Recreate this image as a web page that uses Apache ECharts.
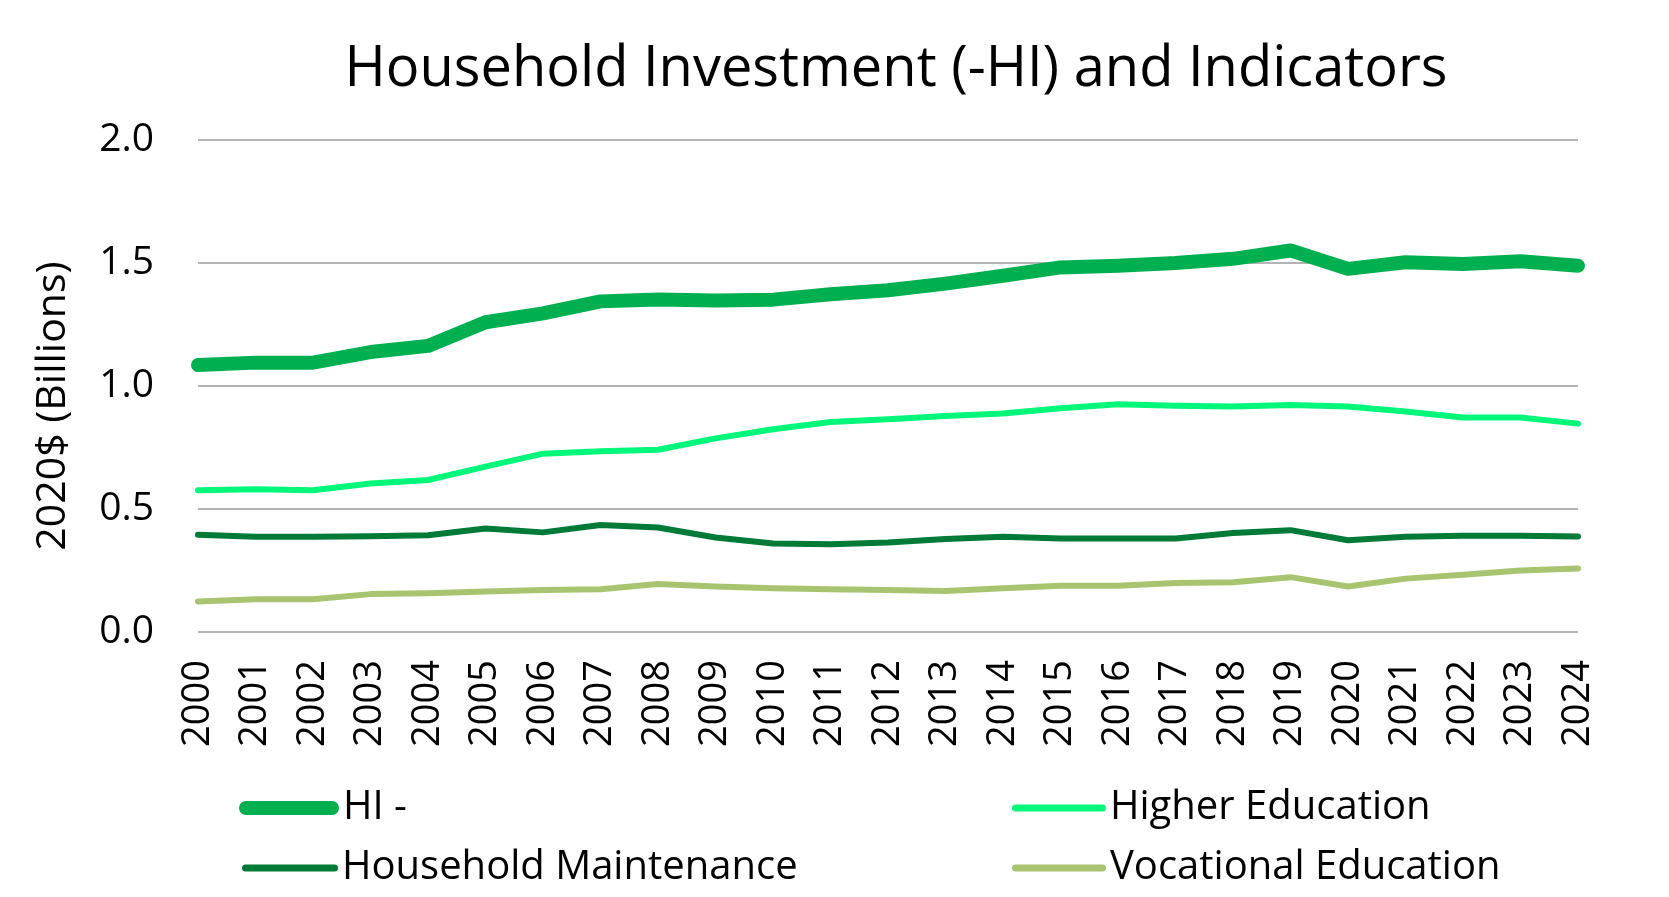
<!DOCTYPE html>
<html>
<head>
<meta charset="utf-8">
<title>Household Investment (-HI) and Indicators</title>
<script src="https://cdn.jsdelivr.net/npm/echarts@6/dist/echarts.min.js"></script>
<style>
  html, body { margin: 0; padding: 0; background: #fff; }
  #chart { width: 1669px; height: 897px; }
</style>
</head>
<body>
<div id="chart"></div>
<script>
const YEARS = ['2000', '2001', '2002', '2003', '2004', '2005', '2006', '2007', '2008', '2009', '2010', '2011', '2012',
  '2013', '2014', '2015', '2016', '2017', '2018', '2019', '2020', '2021', '2022', '2023', '2024'];

const HI = [1.085, 1.095, 1.095, 1.138, 1.163, 1.259, 1.295, 1.344, 1.352, 1.348, 1.351, 1.373, 1.389,
  1.416, 1.448, 1.482, 1.489, 1.500, 1.517, 1.551, 1.476, 1.503, 1.496, 1.507, 1.489];
const HIGHER_EDU = [0.576, 0.580, 0.576, 0.604, 0.618, 0.672, 0.725, 0.735, 0.741, 0.787, 0.824, 0.854, 0.865,
  0.878, 0.888, 0.910, 0.926, 0.920, 0.917, 0.923, 0.917, 0.896, 0.872, 0.872, 0.847];
const MAINTENANCE = [0.395, 0.387, 0.387, 0.389, 0.393, 0.421, 0.405, 0.435, 0.425, 0.384, 0.360, 0.357, 0.364,
  0.378, 0.387, 0.380, 0.380, 0.380, 0.402, 0.414, 0.373, 0.387, 0.391, 0.391, 0.388];
const VOCATIONAL = [0.124, 0.133, 0.133, 0.154, 0.158, 0.165, 0.171, 0.174, 0.195, 0.185, 0.178, 0.174, 0.171,
  0.167, 0.178, 0.188, 0.188, 0.199, 0.202, 0.223, 0.185, 0.217, 0.233, 0.250, 0.258];

const FONT = '"Open Sans", "Noto Sans", sans-serif';

const chart = echarts.init(document.getElementById('chart'));

function lineSeries(name, data, color, width) {
  return {
    name: name,
    type: 'line',
    data: data,
    symbol: 'none',
    smooth: false,
    lineStyle: { color: color, width: width, cap: 'round', join: 'round' },
    itemStyle: { color: color },
    animation: false
  };
}

// stadium shaped legend mark, drawn in the same w x h box it is shown in
function pill(w, h) {
  const r = h / 2;
  return 'path://M' + r + ',0 L' + (w - r) + ',0 A' + r + ',' + r + ' 0 0 1 ' + (w - r) + ',' + h +
    ' L' + r + ',' + h + ' A' + r + ',' + r + ' 0 0 1 ' + r + ',0 Z';
}

function legendAt(name, left, top, w, h) {
  return {
    data: [{ name: name, icon: pill(w, h) }],
    left: left,
    top: top,
    padding: 0,
    itemWidth: w,
    itemHeight: h,
    itemGap: 0,
    textStyle: { fontFamily: FONT, fontSize: 40, color: '#000', lineHeight: 44, padding: [0, 0, 0, -1] }
  };
}

chart.setOption({
  backgroundColor: '#fff',
  title: {
    text: 'Household Investment (-HI) and Indicators',
    left: 891,
    textAlign: 'center',
    top: 37,
    textStyle: { fontFamily: FONT, fontSize: 56, fontWeight: 'normal', color: '#000' }
  },
  grid: { left: 198, right: 91, top: 140, bottom: 265, containLabel: false },
  legend: [
    legendAt('HI -', 239, 786, 100, 14),
    legendAt('Household Maintenance', 242, 846, 96, 7),
    legendAt('Higher Education', 1012, 786, 94, 7),
    legendAt('Vocational Education', 1012, 846, 94, 7)
  ],
  xAxis: {
    type: 'category',
    data: YEARS,
    boundaryGap: false,
    axisLine: { show: false },
    axisTick: { show: false },
    axisLabel: { rotate: 90, margin: 28, fontFamily: FONT, fontSize: 38, color: '#000' }
  },
  yAxis: {
    type: 'value',
    min: 0,
    max: 2,
    interval: 0.5,
    name: '2020$ (Billions)',
    nameLocation: 'middle',
    nameGap: 124,
    nameTextStyle: { fontFamily: FONT, fontSize: 41, color: '#000', padding: [0, 40, 0, 0] },
    axisLine: { show: false },
    axisTick: { show: false },
    axisLabel: { margin: 44, fontFamily: FONT, fontSize: 39, color: '#000', formatter: v => v.toFixed(1) },
    splitLine: { lineStyle: { color: '#B4B4B4', width: 2 } }
  },
  series: [
    lineSeries('HI -', HI, '#00B050', 14),
    lineSeries('Higher Education', HIGHER_EDU, '#00F77A', 6),
    lineSeries('Household Maintenance', MAINTENANCE, '#007A37', 6),
    lineSeries('Vocational Education', VOCATIONAL, '#A9C470', 6)
  ]
});

window.addEventListener('resize', () => chart.resize());
</script>
</body>
</html>
